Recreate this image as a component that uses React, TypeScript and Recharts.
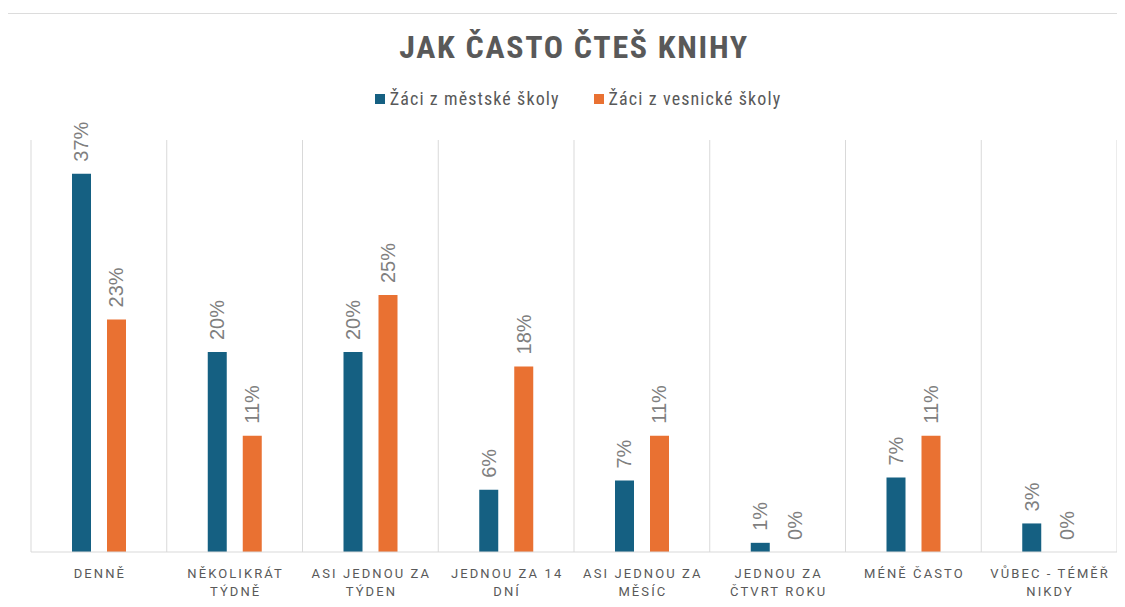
import { BarChart, Bar, XAxis, YAxis, CartesianGrid, LabelList } from 'recharts'

const categories = [
  'DENNĚ',
  'NĚKOLIKRÁT TÝDNĚ',
  'ASI JEDNOU ZA TÝDEN',
  'JEDNOU ZA 14 DNÍ',
  'ASI JEDNOU ZA MĚSÍC',
  'JEDNOU ZA ČTVRT ROKU',
  'MÉNĚ ČASTO',
  'VŮBEC - TÉMĚŘ NIKDY',
]
const seriesNames = ['Žáci z městské školy', 'Žáci z vesnické školy']
const mestska = [37.1, 19.6, 19.6, 6.1, 7.0, 0.9, 7.3, 2.8]
const vesnicka = [22.8, 11.4, 25.2, 18.2, 11.4, 0, 11.4, 0]
const colors = ['#156082', '#E97132']

const data = categories.map((name, i) => ({ name, mestska: mestska[i], vesnicka: vesnicka[i] }))

const narrow = "'Liberation Sans Narrow', 'Roboto Condensed', 'DejaVu Sans Condensed', sans-serif"

function wrap(text: string, max: number) {
  const lines: string[] = []
  let cur = ''
  for (const w of text.split(' ')) {
    const next = cur ? cur + ' ' + w : w
    if (next.length > max && cur) {
      lines.push(cur)
      cur = w
    } else cur = next
  }
  if (cur) lines.push(cur)
  return lines
}

const XTick = ({ x, y, payload }: any) => {
  const lines = wrap(payload.value, 13)
  return (
    <text x={x} y={y} textAnchor="middle" fill="#595959" fontSize={13} letterSpacing={2.1} fontFamily="Roboto, sans-serif">
      {lines.map((l, i) => (
        <tspan key={i} x={x + 1} dy={i === 0 ? 26 : 18}>{l}</tspan>
      ))}
    </text>
  )
}

const ValueLabel = ({ x, y, width, value }: any) => {
  const cx = x + width / 2
  const ty = y - 12
  return (
    <text
      x={cx}
      y={ty}
      transform={`rotate(-90 ${cx} ${ty})`}
      textAnchor="start"
      dominantBaseline="central"
      fill="#7f7f7f"
      fontSize={20}
      fontFamily="'Liberation Sans', Arial, sans-serif"
    >
      {Math.round(value)}%
    </text>
  )
}

// keep zero bars in the rendered set so their labels still show
const keepZero = (v: any) => (v === 0 ? 0.01 : 0)

export default function App() {
  return (
    <div style={{ position: 'relative', width: 1125, height: 607, margin: -8, background: '#fff', overflow: 'hidden' }}>
      <div style={{ position: 'absolute', left: 5, top: 13, width: 1200, height: 700, border: '1px solid #dcdcdc' }} />
      <div
        style={{
          position: 'absolute', left: 0, width: 1148, top: 28, textAlign: 'center',
          fontFamily: narrow, fontWeight: 'bold', fontSize: 32, letterSpacing: 1.7, color: '#595959',
        }}
      >
        JAK ČASTO ČTEŠ KNIHY
      </div>
      <div
        style={{
          position: 'absolute', left: 0, width: 1156, top: 88, display: 'flex', justifyContent: 'center', gap: 34,
          fontFamily: narrow, fontSize: 18, letterSpacing: 1.1, color: '#595959',
        }}
      >
        {seriesNames.map((n, i) => (
          <span key={n} style={{ display: 'flex', alignItems: 'center' }}>
            <span style={{ width: 10, height: 10, background: colors[i], marginRight: 5, display: 'inline-block' }} />
            {n}
          </span>
        ))}
      </div>
      <div style={{ position: 'absolute', left: 0, top: 0 }}>
        <BarChart
          width={1125}
          height={607}
          data={data}
          margin={{ top: 140, right: 8, left: 31, bottom: 0 }}
          barSize={19}
          barGap={16}
        >
          <CartesianGrid
            horizontal={false}
            stroke="#d9d9d9"
            verticalCoordinatesGenerator={({ offset }: any) =>
              Array.from({ length: categories.length + 1 }, (_, i) => offset.left + (i * offset.width) / categories.length)
            }
          />
          <XAxis
            dataKey="name"
            height={55}
            interval={0}
            tickLine={false}
            tickSize={0}
            tickMargin={0}
            axisLine={{ stroke: '#d9d9d9' }}
            tick={<XTick />}
          />
          <YAxis hide domain={[0, 40.4]} />
          <Bar dataKey="mestska" name={seriesNames[0]} fill={colors[0]} minPointSize={keepZero} isAnimationActive={false}>
            <LabelList dataKey="mestska" content={<ValueLabel />} />
          </Bar>
          <Bar dataKey="vesnicka" name={seriesNames[1]} fill={colors[1]} minPointSize={keepZero} isAnimationActive={false}>
            <LabelList dataKey="vesnicka" content={<ValueLabel />} />
          </Bar>
        </BarChart>
      </div>
    </div>
  )
}
